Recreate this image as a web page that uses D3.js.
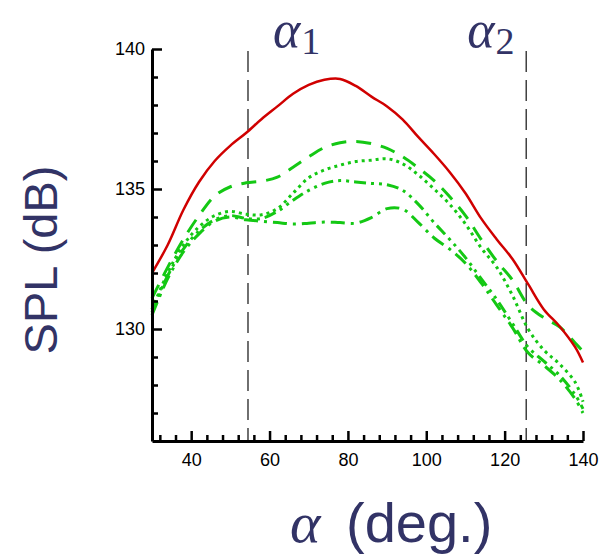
<!DOCTYPE html>
<html>
<head>
<meta charset="utf-8">
<script src="https://cdn.jsdelivr.net/npm/d3@7"></script>
<style>
  body { margin: 0; background: #fff; }
  svg { display: block; }
</style>
</head>
<body>
<svg id="chart"></svg>
<script>
// angle grid (deg) shared by all curves
const angles = [30, 34, 38, 42, 46, 50, 54, 58, 62, 66, 70, 74, 78, 82, 86, 90, 94, 98,
                102, 106, 110, 114, 118, 122, 126, 130, 134, 138, 140];

const splRed = [132.0, 133.0, 134.25, 135.25, 136.0, 136.55, 137.0, 137.5, 137.95, 138.4, 138.72, 138.9, 138.93, 138.68,
                138.3, 137.95, 137.48, 136.85, 136.25, 135.6, 134.85, 133.95, 133.2, 132.5, 131.6, 130.7, 130.1, 129.35, 128.8];
const splDash = [131.1, 132.2, 133.2, 134.05, 134.75, 135.08, 135.22, 135.28, 135.42, 135.78, 136.15, 136.48, 136.65, 136.7,
                 136.62, 136.45, 136.15, 135.75, 135.3, 134.72, 134.05, 133.2, 132.42, 131.75, 130.85, 130.4, 130.08, 129.5, 129.2];
const splDot = [130.7, 132.0, 133.0, 133.65, 134.05, 134.2, 134.1, 134.08, 134.3, 134.85, 135.4, 135.68, 135.85, 135.98,
                136.03, 136.08, 135.9, 135.5, 135.0, 134.45, 133.75, 132.9, 132.2, 131.2, 130.0, 129.25, 128.75, 128.1, 127.4];
const splDashDotDot = [130.6, 131.9, 132.85, 133.5, 133.9, 134.05, 133.95, 133.95, 134.2, 134.6, 134.95, 135.2, 135.3, 135.25,
                       135.2, 135.15, 134.95, 134.45, 133.8, 133.2, 132.55, 131.8, 131.05, 130.2, 129.35, 128.85, 128.35, 127.65, 127.15];
const splDashDot = [130.5, 131.8, 132.75, 133.4, 133.85, 134.0, 133.9, 133.85, 133.8, 133.75, 133.78, 133.82, 133.8, 133.78,
                    133.98, 134.3, 134.28, 133.8, 133.25, 132.85, 132.35, 131.65, 130.85, 130.05, 129.15, 128.7, 128.2, 127.5, 127.0];

const xTicks = [40, 60, 80, 100, 120, 140];
const yTicks = [130, 135, 140];
const refAngles = [54.5, 125.5];
const refLabels = ["1", "2"];

const W = 603, H = 557;
const margin = { top: 49, right: 20, bottom: 116, left: 152 },
      width = 583 - margin.left,
      height = 441 - margin.top;

const ink = "#323366";
const sans = "'Liberation Sans', Arial, sans-serif";
const serif = "'Liberation Serif', 'Times New Roman', serif";

const svg = d3.select("#chart")
    .attr("width", W)
    .attr("height", H)
    .append("g")
    .attr("transform", `translate(${margin.left},${margin.top})`);

const x = d3.scaleLinear().domain([30, 140]).range([0, width]);
const y = d3.scaleLinear().domain([126, 140]).range([height, 0]);

// reference angle lines
svg.selectAll(".ref")
    .data(refAngles)
    .join("line")
    .attr("x1", d => x(d))
    .attr("x2", d => x(d))
    .attr("y1", 2)
    .attr("y2", height)
    .attr("stroke", "#111")
    .attr("stroke-width", 1.2)
    .attr("stroke-dasharray", "21,8");

// alpha_1 sits right of its line, alpha_2 left of its line
const refText = svg.selectAll(".reflab")
    .data(refAngles)
    .join("text")
    .attr("x", (d, i) => x(d) + (i === 0 ? 25 : -59))
    .attr("y", -2)
    .attr("fill", ink);
refText.append("tspan")
    .attr("font-family", serif)
    .attr("font-style", "italic")
    .attr("font-size", 52)
    .text("α");
refText.append("tspan")
    .attr("font-family", serif)
    .attr("font-size", 38)
    .attr("dx", 1)
    .attr("dy", 7)
    .text((d, i) => refLabels[i]);

// curves
const series = [
    { vals: splDashDot, color: "#14c814", w: 3, dash: "14,6,3,6" },
    { vals: splDashDotDot, color: "#14c814", w: 3, dash: "12,5,3,5,3,5" },
    { vals: splDot, color: "#14c814", w: 3, dash: "3,4" },
    { vals: splDash, color: "#14c814", w: 3, dash: "15,10" },
    { vals: splRed, color: "#d00000", w: 2.5, dash: null }
];

const line = d3.line()
    .x((d, i) => x(angles[i]))
    .y(d => y(d))
    .curve(d3.curveCatmullRom);

svg.selectAll(".curve")
    .data(series)
    .join("path")
    .attr("fill", "none")
    .attr("stroke", d => d.color)
    .attr("stroke-width", d => d.w)
    .attr("stroke-dasharray", d => d.dash)
    .attr("d", d => line(d.vals));

// axes
const minorX = d3.range(32, 141, 4).filter(v => !xTicks.includes(v));
const minorY = d3.range(127, 140, 1).filter(v => !yTicks.includes(v));

svg.append("g")
    .attr("transform", `translate(0,${height})`)
    .call(d3.axisBottom(x).tickValues(minorX).tickSize(-6).tickSizeOuter(0).tickFormat(""))
    .call(g => g.select(".domain").remove())
    .call(g => g.selectAll("line").attr("stroke-width", 2.5));

svg.append("g")
    .attr("transform", `translate(0,${height})`)
    .call(d3.axisBottom(x).tickValues(xTicks).tickSize(-10).tickSizeOuter(0).tickPadding(12))
    .call(g => g.select(".domain").attr("stroke-width", 3))
    .call(g => g.selectAll("line").attr("stroke-width", 2.5))
    .call(g => g.selectAll("text").attr("font-size", 18).attr("font-family", sans).attr("fill", "#000"));

svg.append("g")
    .call(d3.axisLeft(y).tickValues(minorY).tickSize(-6).tickSizeOuter(0).tickFormat(""))
    .call(g => g.select(".domain").remove())
    .call(g => g.selectAll("line").attr("stroke-width", 2.5));

svg.append("g")
    .call(d3.axisLeft(y).tickValues(yTicks).tickSize(-10).tickSizeOuter(0).tickPadding(7))
    .call(g => g.select(".domain").attr("stroke-width", 3))
    .call(g => g.selectAll("line").attr("stroke-width", 2.5))
    .call(g => g.selectAll("text").attr("font-size", 18).attr("font-family", sans).attr("fill", "#000"));

// axis titles
svg.append("text")
    .attr("transform", `translate(${57 - margin.left},${260 - margin.top}) rotate(-90)`)
    .attr("text-anchor", "middle")
    .attr("font-family", sans)
    .attr("font-size", 47)
    .attr("fill", ink)
    .text("SPL (dB)");

const xTitle = svg.append("text")
    .attr("y", 542 - margin.top)
    .attr("fill", ink);
xTitle.append("tspan")
    .attr("x", 290 - margin.left)
    .attr("font-family", serif)
    .attr("font-style", "italic")
    .attr("font-size", 58)
    .text("α");
xTitle.append("tspan")
    .attr("x", 346 - margin.left)
    .attr("font-family", sans)
    .attr("font-size", 56)
    .text("(deg.)");
</script>
</body>
</html>
